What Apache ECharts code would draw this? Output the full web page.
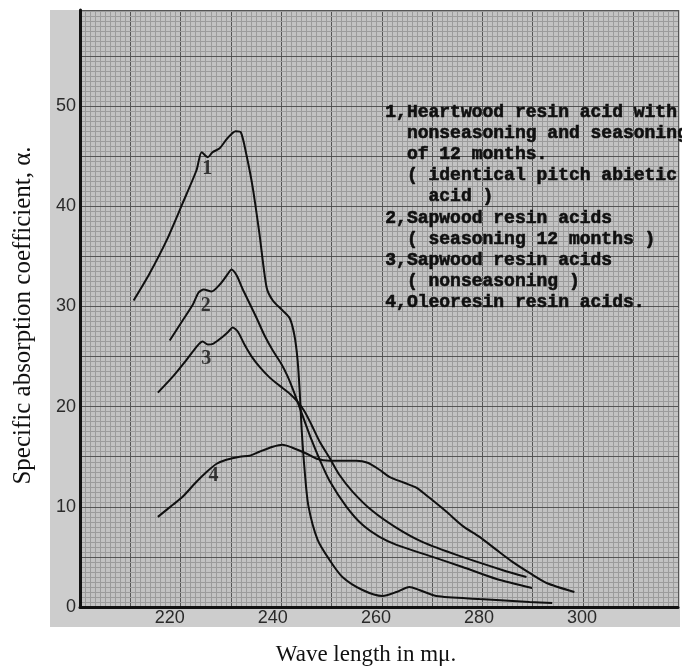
<!DOCTYPE html>
<html>
<head>
<meta charset="utf-8">
<script src="https://cdn.jsdelivr.net/npm/echarts@6/dist/echarts.min.js"></script>
<style>
html,body{margin:0;padding:0;background:#fff;}
#chart{width:682px;height:668px;}
</style>
</head>
<body>
<div id="chart"></div>
<script>
// ---- data (wavelength in mμ, specific absorption coefficient α) ----
const curve1 = [[213.0,30.6],[216.1,33.3],[219.4,36.6],[222.5,40.3],[225.2,43.6],[226.2,45.4],[227.4,44.9],[228.3,45.4],[229.7,45.8],[231.2,46.8],[232.8,47.5],[233.8,47.4],[234.9,45.1],[236.1,41.9],[237.4,37.3],[238.8,31.9],[240.0,30.6],[241.9,29.6],[243.3,28.8],[244.2,27.1],[244.8,24.7],[245.2,21.7],[245.6,17.7],[246.2,13.5],[246.9,10.1],[248.7,6.7],[251.0,4.7],[253.5,3.0],[257.4,1.7],[261.3,1.1],[264.0,1.5],[266.5,2.0],[268.4,1.7],[271.7,1.1],[280.1,0.8],[289.8,0.5],[294.2,0.4]];
const curve2 = [[220.0,26.6],[222.5,28.6],[224.5,30.2],[225.6,31.4],[226.6,31.7],[228.1,31.5],[229.9,32.3],[231.2,33.2],[232.0,33.7],[233.0,33.1],[234.1,31.8],[235.5,30.3],[236.9,28.8],[238.4,27.1],[240.0,25.6],[241.5,24.4],[242.9,23.0],[244.0,21.6],[245.0,20.2],[246.2,18.5],[247.5,16.7],[249.1,14.7],[251.0,12.6],[254.3,10.0],[257.4,8.2],[260.7,7.0],[264.0,6.2],[270.4,5.1],[276.8,4.0],[283.4,2.8],[290.3,1.9]];
const curve3 = [[217.7,21.4],[220.6,23.0],[223.3,24.7],[225.4,26.1],[226.4,26.5],[227.4,26.2],[228.5,26.3],[230.1,26.9],[231.4,27.5],[232.2,27.9],[233.2,27.5],[234.5,26.2],[235.9,25.0],[237.4,24.0],[239.4,22.9],[241.3,22.1],[243.3,21.3],[244.8,20.5],[246.2,19.5],[247.5,18.2],[249.1,16.5],[251.0,14.9],[252.9,13.2],[255.5,11.5],[259.3,9.6],[264.0,7.9],[269.0,6.5],[276.2,5.1],[284.5,3.7],[289.2,3.0]];
const curve4 = [[217.7,9.0],[220.6,10.2],[222.5,11.0],[225.2,12.5],[227.2,13.5],[229.1,14.3],[231.0,14.7],[233.6,15.0],[235.5,15.1],[237.4,15.5],[240.0,16.0],[241.9,16.2],[243.8,15.9],[246.6,15.3],[248.5,14.8],[251.0,14.6],[256.2,14.6],[258.4,14.4],[260.7,13.7],[262.6,13.0],[265.5,12.4],[267.9,11.9],[270.4,10.9],[273.7,9.5],[276.8,8.1],[280.1,7.0],[283.4,5.7],[286.5,4.5],[289.8,3.4],[293.1,2.4],[298.5,1.5]];
const curveNames = ['1','2','3','4'];
const curveLabelPos = [[227.3,43.7],[227.0,30.1],[227.1,24.8],[228.5,13.1]];
const xTickLabels = [220,240,260,280,300];
const yTickLabels = [0,10,20,30,40,50];
const xRange = [202.6, 318.6];
const yRange = [0, 59.6];
const legendLines = [
  '1,Heartwood resin acid with',
  '  nonseasoning and seasoning',
  '  of 12 months.',
  '  ( identical pitch abietic',
  '    acid )',
  '2,Sapwood resin acids',
  '  ( seasoning 12 months )',
  '3,Sapwood resin acids',
  '  ( nonseasoning )',
  '4,Oleoresin resin acids.'
];
const xTitle = 'Wave length in mμ.';
const yTitle = 'Specific absorption coefficient, α.';

const chart = echarts.init(document.getElementById('chart'), null, {renderer:'canvas'});
const lineStyle = {color:'#101010', width:2};
const mkLine = (d) => ({type:'line', data:d, xAxisIndex:0, yAxisIndex:0, showSymbol:false, symbol:'none',
  smooth:0.25, lineStyle:lineStyle, z:4, silent:true, animation:false});

chart.setOption({
  animation:false,
  backgroundColor:'#ffffff',
  graphic:[
    {type:'rect', z:-10, shape:{x:50, y:10, width:630, height:617}, style:{fill:'#cdcdcd'}},
    {type:'text', z:10, left:385, top:102, style:{
      text:legendLines.join('\n'), font:'bold 18px "Liberation Mono", monospace',
      fill:'#101010', stroke:'#101010', lineWidth:0.6, lineHeight:21.1}}
  ],
  grid:{left:80, top:10, right:4, bottom:61, show:true, backgroundColor:'#c3c3c3', borderWidth:0,
    containLabel:false, outerBoundsMode:'none'},
  xAxis:[
    {type:'value', min:xRange[0], max:xRange[1], z:6,
      axisLine:{show:true, onZero:false, lineStyle:{color:'#111', width:3}},
      axisTick:{show:false},
      axisLabel:{customValues:xTickLabels, margin:2, fontSize:18, color:'#2a2a2a', fontFamily:'"Liberation Sans", sans-serif'},
      splitLine:{show:false},
      name:xTitle, nameLocation:'middle', nameGap:36,
      nameTextStyle:{fontFamily:'"Liberation Serif", serif', fontSize:23, color:'#111', padding:[0,26,0,0]}
    },
    {type:'value', min:0, max:118.9, interval:10, position:'bottom', z:1,
      axisLine:{show:false}, axisTick:{show:false}, axisLabel:{show:false},
      splitLine:{show:true, lineStyle:{color:'#555555', width:1}},
      minorTick:{show:false, splitNumber:10},
      minorSplitLine:{show:true, lineStyle:{color:'#9c9c9c', width:1}}
    }
  ],
  yAxis:{type:'value', min:yRange[0], max:yRange[1], interval:5, z:2,
    axisLine:{show:true, onZero:false, lineStyle:{color:'#111', width:3}},
    axisTick:{show:false},
    axisLabel:{customValues:yTickLabels, margin:4, fontSize:18, color:'#2a2a2a', fontFamily:'"Liberation Sans", sans-serif'},
    splitLine:{show:true, lineStyle:{color:'#555555', width:1}},
    minorTick:{show:false, splitNumber:10},
    minorSplitLine:{show:true, lineStyle:{color:'#9c9c9c', width:1}},
    name:yTitle, nameLocation:'middle', nameGap:44, nameRotate:90,
    nameTextStyle:{fontFamily:'"Liberation Serif", serif', fontSize:25, color:'#111', padding:[0,14,0,0]}
  },
  series:[
    mkLine(curve1), mkLine(curve2), mkLine(curve3), mkLine(curve4),
    {type:'scatter', xAxisIndex:0, yAxisIndex:0, symbolSize:0, z:5, silent:true,
      data:curveLabelPos.map((p,i)=>({name:curveNames[i], value:p})),
      label:{show:true, position:[0,0], align:'center', verticalAlign:'middle', formatter:(p)=>p.name,
        fontFamily:'"Liberation Serif", serif', fontWeight:'bold', fontSize:20, color:'#101010',
        textBorderWidth:0, textBorderColor:'transparent'}}
  ]
});
</script>
</body>
</html>
